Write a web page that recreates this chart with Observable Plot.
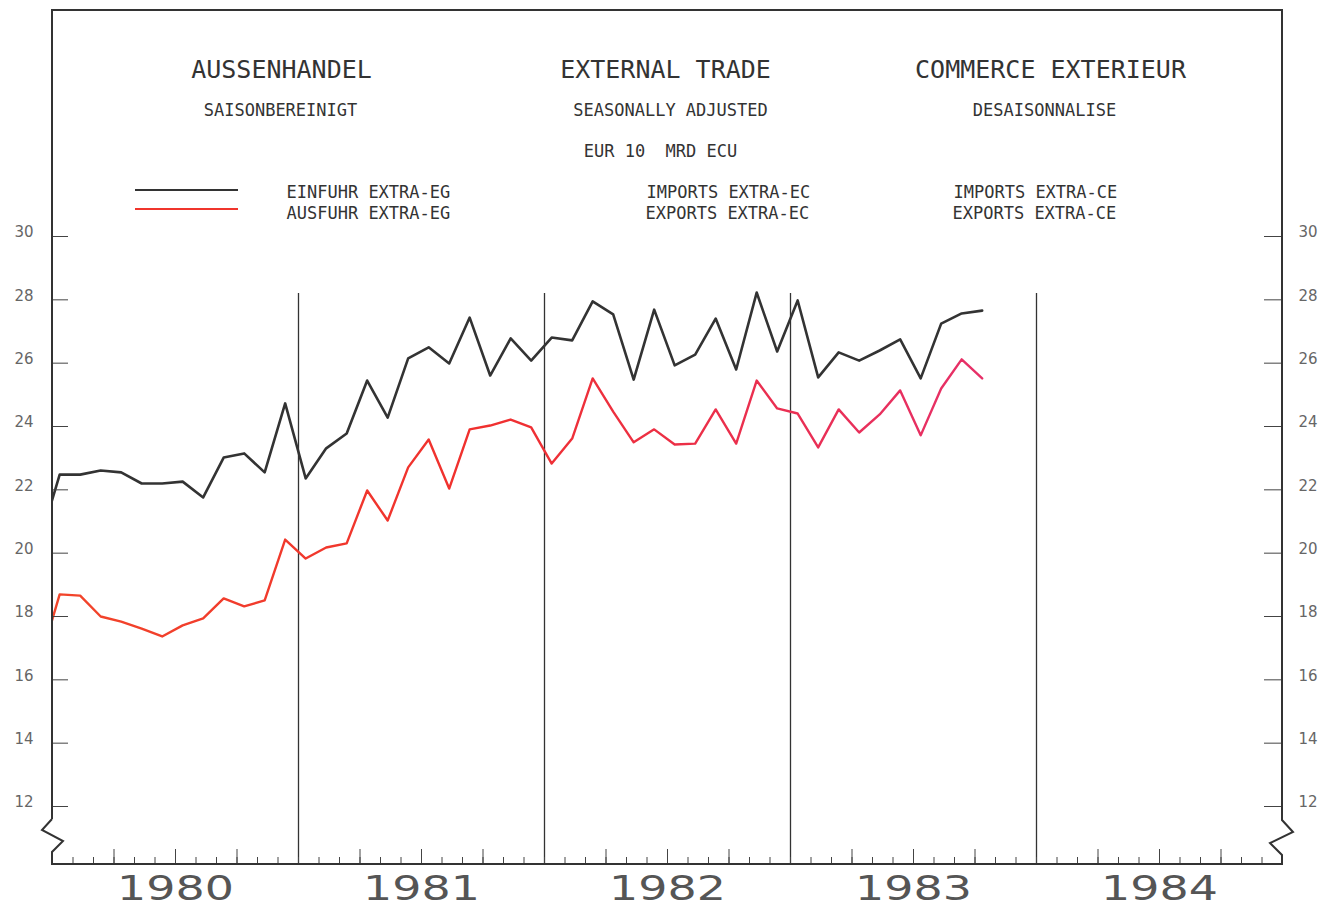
<!DOCTYPE html>
<html><head><meta charset="utf-8">
<script src="https://cdn.jsdelivr.net/npm/d3@7"></script>
<script src="https://cdn.jsdelivr.net/npm/@observablehq/plot@0.6"></script>
<style>body{margin:0;background:#fff}</style>
</head><body><div id="chart"></div>
<script>
// Monthly values, Dec 1979 .. Oct 1983 (Mrd ECU, seasonally adjusted)
const importsEinfuhr = [20.3,
 22.48, 22.48, 22.61, 22.55, 22.20, 22.20, 22.26, 21.76, 23.02, 23.15, 22.55, 24.73,
 22.36, 23.31, 23.78, 25.45, 24.28, 26.15, 26.50, 25.99, 27.44, 25.61, 26.78, 26.08,
 26.81, 26.72, 27.95, 27.54, 25.48, 27.69, 25.93, 26.27, 27.41, 25.80, 28.23, 26.37,
 27.98, 25.55, 26.34, 26.08, 26.40, 26.75, 25.52, 27.25, 27.57, 27.66];
const exportsAusfuhr = [16.5,
 18.70, 18.66, 18.00, 17.84, 17.62, 17.37, 17.72, 17.94, 18.57, 18.32, 18.51, 20.43,
 19.83, 20.18, 20.31, 21.98, 21.03, 22.71, 23.59, 22.04, 23.91, 24.03, 24.22, 23.97,
 22.83, 23.62, 25.52, 24.47, 23.50, 23.91, 23.43, 23.46, 24.54, 23.46, 25.45, 24.57,
 24.41, 23.34, 24.54, 23.81, 24.38, 25.14, 23.72, 25.20, 26.12, 25.52];
const months = d3.utcMonths(new Date(Date.UTC(1979, 11, 1)), new Date(Date.UTC(1983, 10, 1)));
const yTicks = [12, 14, 16, 18, 20, 22, 24, 26, 28, 30];
const years = [1980, 1981, 1982, 1983, 1984];
const yearLines = [1981, 1982, 1983, 1984];
const monthTicks = d3.range(0, 60).map(i => 1980 + i / 12);
const quarterTicks = d3.range(0, 60).filter(i => i % 3 === 0 && i % 12 !== 0).map(i => 1980 + i / 12);

const pos = d => d.getUTCFullYear() + (d.getUTCMonth() + 0.35) / 12;
const impRows = months.map((d, i) => ({x: pos(d), v: importsEinfuhr[i]}));
const expRows = months.map((d, i) => ({x: pos(d), v: exportsAusfuhr[i]}));

const W = 1343, H = 921, ML = 52, MR = 61, MT = 10, MB = 57;
const MONO = "DejaVu Sans Mono";

const T = (str, x, y, size, anchor = "middle") => Plot.text([str], {
  text: d => d, frameAnchor: "top-left", dx: x - ML, dy: y - MT,
  fontSize: size, fontFamily: MONO, textAnchor: anchor, lineAnchor: "middle", fill: "#333"
});

const defsMark = (index, scales) => {
  const g = d3.create("svg:g");
  const lg = g.append("defs").append("linearGradient")
    .attr("id", "redGrad").attr("gradientUnits", "userSpaceOnUse")
    .attr("x1", scales.x(1980)).attr("x2", scales.x(1983.85)).attr("y1", 0).attr("y2", 0);
  lg.append("stop").attr("offset", "0").attr("stop-color", "#f2452a");
  lg.append("stop").attr("offset", "0.45").attr("stop-color", "#f0302e");
  lg.append("stop").attr("offset", "0.75").attr("stop-color", "#ea2f50");
  lg.append("stop").attr("offset", "1").attr("stop-color", "#e6306a");
  return g.node();
};

const frameMark = (index, scales, values, dim) => {
  const L = dim.marginLeft, R = dim.width - dim.marginRight, Tt = dim.marginTop, B = dim.height - dim.marginBottom;
  const g = d3.create("svg:g").attr("fill", "none").attr("stroke", "#333").attr("stroke-width", 2);
  g.append("path").attr("d",
    `M${L},${B - 45}V${Tt}H${R}V${B - 44}` +
    `L${R + 11},${B - 32}L${R - 12},${B - 21}L${R},${B - 9}V${B}H${L}V${B - 12}` +
    `L${L + 11},${B - 23}L${L - 10},${B - 34}L${L},${B - 45}`);
  return g.node();
};

const legendMark = (index, scales, values, dim) => {
  const L = dim.marginLeft, Tt = dim.marginTop;
  const g = d3.create("svg:g").attr("stroke-width", 2);
  g.append("line").attr("x1", L + 83).attr("x2", L + 186).attr("y1", Tt + 180).attr("y2", Tt + 180).attr("stroke", "#333");
  g.append("line").attr("x1", L + 83).attr("x2", L + 186).attr("y1", Tt + 199).attr("y2", Tt + 199).attr("stroke", "#f0352c");
  return g.node();
};

const chart = Plot.plot({
  width: W, height: H,
  marginLeft: ML, marginRight: MR, marginTop: MT, marginBottom: MB,
  style: {background: "#fff", fontFamily: "DejaVu Sans"},
  x: {domain: [1980, 1985]},
  y: {domain: [12, 30], range: [806, 236]},
  marks: [
    defsMark,
    Plot.ruleX(yearLines, {insetTop: 283, stroke: "#333", strokeWidth: 1.3}),
    Plot.line(impRows, {x: "x", y: "v", stroke: "#333", strokeWidth: 2.6, clip: true}),
    Plot.line(expRows, {x: "x", y: "v", stroke: "url(#redGrad)", strokeWidth: 2.4, clip: true}),
    Plot.axisY(yTicks, {anchor: "left", tickSize: -16, tickFormat: () => "", stroke: "#444", label: null}),
    Plot.axisY(yTicks, {anchor: "right", tickSize: -19, tickFormat: () => "", stroke: "#444", label: null}),
    Plot.axisY(yTicks, {anchor: "left", tickSize: 0, tickPadding: 19, dy: -4, fontSize: 15, fill: "#666", label: null}),
    Plot.axisY(yTicks, {anchor: "right", tickSize: 0, tickPadding: 16, dy: -4, fontSize: 15, fill: "#666", label: null}),
    Plot.axisX(monthTicks, {anchor: "bottom", tickSize: -7, tickFormat: () => "", stroke: "#444", label: null}),
    Plot.axisX(quarterTicks, {anchor: "bottom", tickSize: -15, tickFormat: () => "", stroke: "#444", label: null}),
    Plot.axisX(years.map(y => y + 0.5), {anchor: "bottom", tickSize: 0, tickPadding: 11, tickFormat: d => String(Math.floor(d)), fontSize: 34, fill: "#555", label: null}),
    frameMark,
    legendMark,
    T("AUSSENHANDEL", 281, 69, 25),
    T("EXTERNAL TRADE", 665, 69, 25),
    T("COMMERCE EXTERIEUR", 1050, 69, 25),
    T("SAISONBEREINIGT", 280, 110, 17),
    T("SEASONALLY ADJUSTED", 670, 110, 17),
    T("DESAISONNALISE", 1044, 110, 17),
    T("EUR 10 \u00a0MRD ECU", 660, 151, 17),
    T("EINFUHR EXTRA-EG", 286, 192, 17, "start"),
    T("AUSFUHR EXTRA-EG", 286, 213, 17, "start"),
    T("IMPORTS EXTRA-EC", 646, 192, 17, "start"),
    T("EXPORTS EXTRA-EC", 645, 213, 17, "start"),
    T("IMPORTS EXTRA-CE", 953, 192, 17, "start"),
    T("EXPORTS EXTRA-CE", 952, 213, 17, "start")
  ]
});
// widen the large year labels like the plotter's wide digits
chart.querySelectorAll('g[aria-label="x-axis tick label"] text').forEach(t => {
  if (t.textContent) {
    const tr = t.getAttribute("transform") || "";
    t.setAttribute("transform", tr + " scale(1.35,1)");
  }
});
document.getElementById("chart").appendChild(chart);
</script>
</body></html>
